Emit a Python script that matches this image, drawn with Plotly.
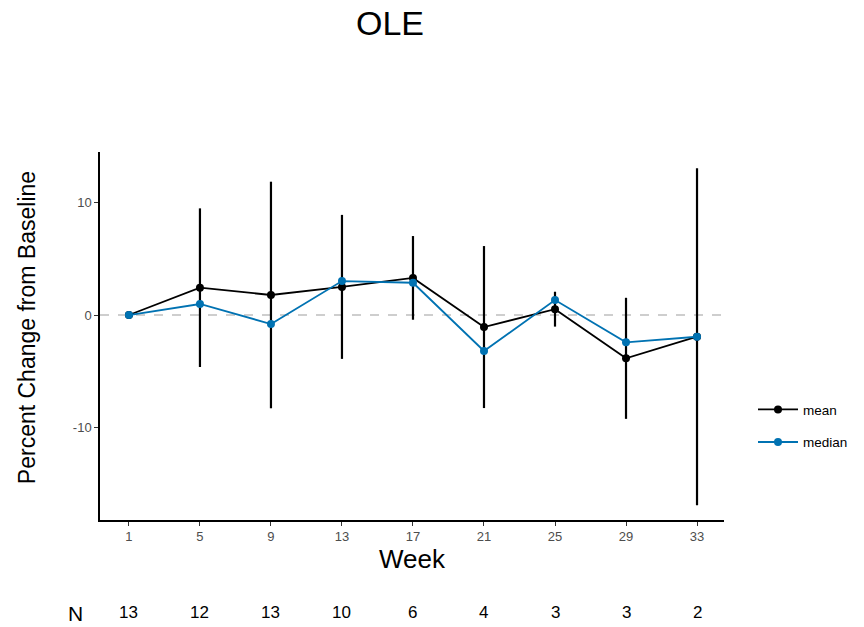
import plotly.graph_objects as go

weeks = [1, 5, 9, 13, 17, 21, 25, 29, 33]
mean_change = [0.0, 2.43, 1.78, 2.50, 3.30, -1.07, 0.52, -3.85, -1.93]
sd_change = [0.0, 7.05, 10.07, 6.40, 3.72, 7.20, 1.55, 5.38, 14.97]
median_change = [0.0, 0.98, -0.80, 3.02, 2.87, -3.20, 1.33, -2.43, -1.93]
n_subjects = [13, 12, 13, 10, 6, 4, 3, 3, 2]
y_ticks = [-10, 0, 10]
y_tick_labels = ["-10", "0", "10"]

BLACK = "#000000"
BLUE = "#0072B2"
FONT = "Liberation Sans, Arial, sans-serif"

fig = go.Figure()

# mean ± SD vertical bars
fig.add_trace(go.Scatter(
    x=weeks, y=mean_change, mode="markers",
    marker=dict(size=1, color=BLACK),
    error_y=dict(type="data", array=sd_change, symmetric=True,
                 width=0, thickness=2.2, color=BLACK),
    showlegend=False, hoverinfo="skip",
))

fig.add_trace(go.Scatter(
    x=weeks, y=mean_change, mode="lines+markers", name="mean",
    line=dict(color=BLACK, width=1.8),
    marker=dict(color=BLACK, size=8),
    legendgroup="mean",
))

fig.add_trace(go.Scatter(
    x=weeks, y=median_change, mode="lines+markers", name="median",
    line=dict(color=BLUE, width=1.8),
    marker=dict(color=BLUE, size=8),
    legendgroup="median",
))

# zero reference line
fig.add_shape(type="line", xref="paper", x0=0, x1=1, yref="y", y0=0, y1=0,
              line=dict(color="#BEBEBE", width=1.5, dash="dash"), layer="below")

# y-axis title
fig.add_annotation(text="Percent Change from Baseline", textangle=-90,
                   xref="paper", yref="paper", x=-0.117, y=0.524,
                   xanchor="center", yanchor="middle", showarrow=False,
                   font=dict(family=FONT, size=23, color=BLACK))

# N row beneath the axis
fig.add_annotation(text="N", xref="paper", yref="paper", x=-0.04, y=-0.255,
                   xanchor="center", yanchor="middle", showarrow=False,
                   font=dict(family=FONT, size=21, color=BLACK))
for w, n in zip(weeks, n_subjects):
    fig.add_annotation(text=str(n), xref="x", yref="paper", x=w, y=-0.25,
                       xanchor="center", yanchor="middle", showarrow=False,
                       font=dict(family=FONT, size=17, color=BLACK))

fig.update_layout(
    width=864, height=627,
    paper_bgcolor="white", plot_bgcolor="white",
    margin=dict(l=100, r=139, t=152, b=107),
    title=dict(text="OLE", x=390 / 864, xanchor="center", y=1 - 23 / 627,
               yanchor="middle", font=dict(family=FONT, size=34, color=BLACK)),
    font=dict(family=FONT),
    legend=dict(x=1.0448, y=0.255, xanchor="left", yanchor="middle",
                traceorder="grouped", tracegroupgap=12, itemwidth=40,
                font=dict(family=FONT, size=13.5, color=BLACK),
                bgcolor="rgba(0,0,0,0)"),
    showlegend=True,
)

fig.update_xaxes(
    range=[-0.63, 34.52], tickvals=weeks, ticktext=[str(w) for w in weeks],
    showgrid=False, zeroline=False, showline=True, linecolor=BLACK, linewidth=1.5,
    ticks="outside", ticklen=4, tickcolor="#333333", tickwidth=1,
    tickfont=dict(family=FONT, size=13, color="#4D4D4D"),
    title=dict(text="Week", font=dict(family=FONT, size=26, color=BLACK), standoff=4),
)
fig.update_yaxes(
    range=[-18.22, 14.49], tickvals=y_ticks, ticktext=y_tick_labels,
    showgrid=False, zeroline=False, showline=True, linecolor=BLACK, linewidth=1.5,
    ticks="outside", ticklen=4, tickcolor="#333333", tickwidth=1,
    tickfont=dict(family=FONT, size=13, color="#4D4D4D"),
)

fig.write_html("out.html")
